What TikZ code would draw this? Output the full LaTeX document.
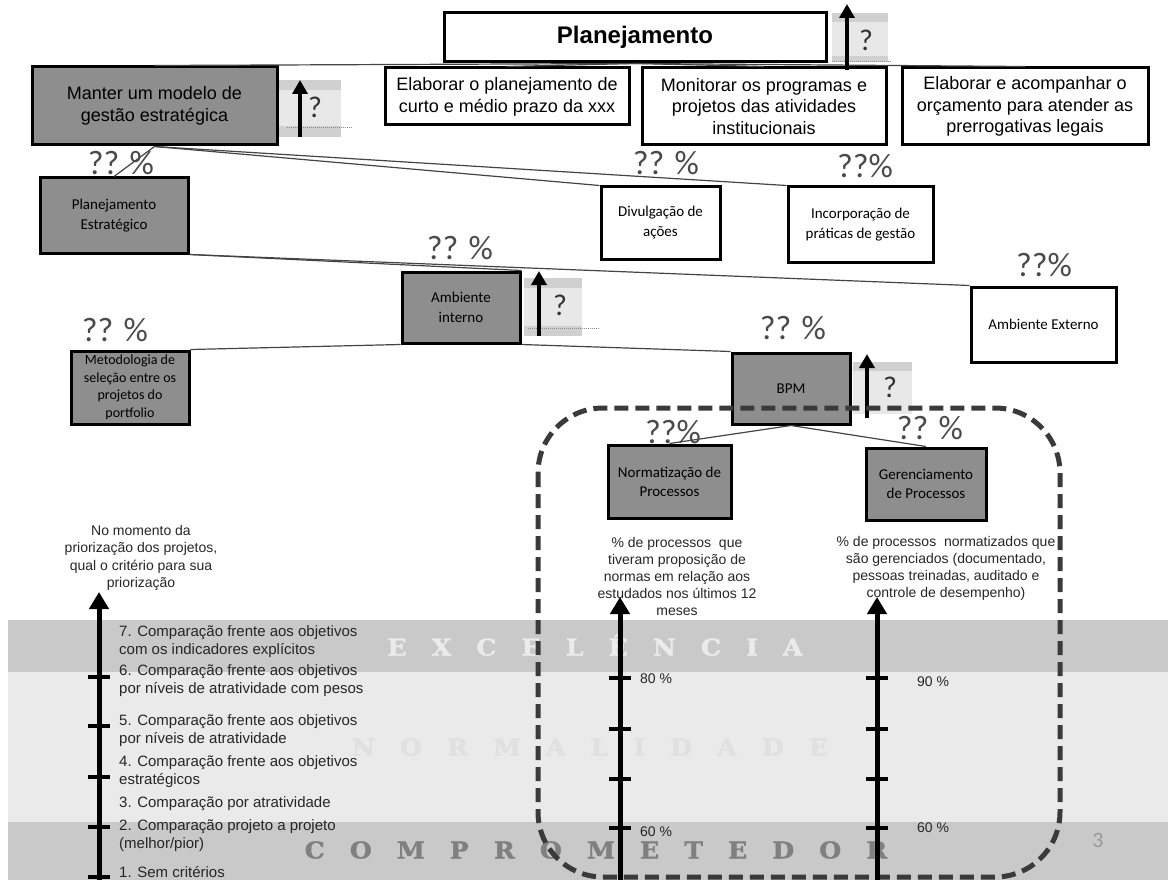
\documentclass[tikz,border=0pt]{standalone}
\usepackage{fontspec}
\setmainfont{Liberation Sans}
\newfontfamily\calib{Carlito}
\newfontfamily\bandserif[FakeBold=1.5,FakeStretch=1.1]{DejaVu Serif}
\usetikzlibrary{arrows.meta,positioning,calc}

\definecolor{boxgrey}{HTML}{8E8E8E}
\definecolor{bandmid}{HTML}{C9C9C9}
\definecolor{bandlight}{HTML}{EAEAEA}
\definecolor{pctgrey}{HTML}{4A4A4A}
\definecolor{indbg}{HTML}{E8E8E8}
\definecolor{indband}{HTML}{D0D0D0}
\definecolor{dashgrey}{HTML}{3A3A3A}
\definecolor{linkgrey}{HTML}{444444}

\newcommand{\lsp}{\hspace{25pt}}

\tikzset{
  pct/.style={font=\calib\fontsize{34}{34}\selectfont, text=pctgrey, inner sep=0pt},
  qmark/.style={font=\calib\fontsize{30}{30}\selectfont, text=black!80, inner sep=0pt},
  indbgbox/.style={fill=indbg},
  indstrip/.style={fill=indband},
  indarrow/.style={line width=4pt, -{Triangle[length=14pt,width=15pt]}},
  scalearrow/.style={line width=5pt, -{Triangle[length=17pt,width=19pt]}},
  tick/.style={line width=3.5pt},
  bandtxt/.style={font=\bandserif\bfseries\fontsize{23}{23}\selectfont, inner sep=0pt},
  listtxt/.style={font=\fontsize{15}{18}\selectfont, align=left, anchor=west, inner sep=0pt, text=black!85},
  desctxt/.style={font=\fontsize{14}{17}\selectfont, align=center, inner sep=0pt, text=black!85},
  valtxt/.style={font=\fontsize{14}{14}\selectfont, anchor=west, inner sep=0pt, text=black!85},
}

\begin{document}
\begin{tikzpicture}[x=1pt,y=-1pt]
\useasboundingbox (0,0) rectangle (1168,880);

% faixas de maturidade
\fill[bandmid] (8,620) rectangle (1168,672);
\fill[bandlight] (8,672) rectangle (1168,822);
\fill[bandmid] (8,822) rectangle (1168,880);
\node[bandtxt, text=white!92!black] (excel) at (595,645) {E\lsp X\lsp C\lsp E\lsp L\lsp Ê\lsp N\lsp C\lsp I\lsp A};
\node[bandtxt, text=black!12] (normal) at (590,747) {N\lsp O\lsp R\lsp M\lsp A\lsp L\lsp I\lsp D\lsp A\lsp D\lsp E};
\node[bandtxt, text=black!50] (compr) at (596,850) {C\lsp O\lsp M\lsp P\lsp R\lsp O\lsp M\lsp E\lsp T\lsp E\lsp D\lsp O\lsp R};
\node[font=\calib\fontsize{22}{22}\selectfont, text=black!40] (pagina) at (1098,840) {3};

% caixas brancas
\begin{scope}[every node/.style={draw,line width=3pt,fill=white,inner sep=2pt,align=center,font=\fontsize{18}{22}\selectfont}]
  \node[minimum width=382pt, minimum height=49pt, font=\fontsize{24}{28}\selectfont\bfseries] (plan) at (635,37.5) {Planejamento};
  \node[minimum width=244pt, minimum height=57pt] (elab) at (507,96.5) {Elaborar o planejamento de\\curto e médio prazo da xxx};
  \node[minimum width=244pt, minimum height=77pt, font=\fontsize{18}{21.5}\selectfont] (monit) at (764,106.5) {Monitorar os programas e\\projetos das atividades\\institucionais};
  \node[minimum width=246pt, minimum height=77pt, font=\fontsize{18}{21.5}\selectfont] (acomp) at (1025,106.5) {Elaborar e acompanhar o\\orçamento para atender as\\prerrogativas legais};
\end{scope}

\begin{scope}[every node/.style={draw,line width=3pt,fill=white,inner sep=2pt,align=center,font=\calib\fontsize{15}{20}\selectfont}]
  \node[minimum width=119pt, minimum height=72pt] (divulg) at (660.5,223) {Divulgação de\\ações};
  \node[minimum width=145pt, minimum height=75pt] (incorp) at (860.5,224.5) {Incorporação de\\práticas de gestão};
  \node[minimum width=145pt, minimum height=75pt] (ambext) at (1043.5,324.5) {Ambiente Externo};
\end{scope}

% caixas cinzas
\begin{scope}[every node/.style={draw,line width=3pt,fill=boxgrey,inner sep=1pt,align=center,font=\calib\fontsize{15}{20}\selectfont}]
  \node[minimum width=245pt, minimum height=78pt, font=\fontsize{18}{22}\selectfont] (manter) at (154.5,106) {Manter um modelo de\\gestão estratégica};
  \node[minimum width=148pt, minimum height=75pt] (pe) at (114,215.5) {Planejamento\\Estratégico};
  \node[minimum width=118pt, minimum height=71pt] (ambint) at (461,307.5) {Ambiente\\interno};
  \node[minimum width=118pt, minimum height=73pt, font=\calib\fontsize{14}{17.5}\selectfont] (metod) at (130,387.5) {Metodologia de\\seleção entre os\\projetos do\\portfolio};
  \node[minimum width=118pt, minimum height=71pt] (bpm) at (791,388.5) {BPM};
  \node[minimum width=123pt, minimum height=73pt, font=\calib\fontsize{15}{19}\selectfont] (norm) at (669.5,481.5) {Normatização de\\Processos};
  \node[minimum width=120pt, minimum height=72pt, font=\calib\fontsize{15}{19}\selectfont] (geren) at (926,484) {Gerenciamento\\de Processos};
\end{scope}

% ligacoes
\begin{scope}[every edge/.style={draw=linkgrey,line width=1.2pt}]
  \path (plan.south) edge (manter.north) edge (elab.north) edge (monit.north) edge (acomp.north);
  \path (manter.south) edge (pe.north) edge (divulg.north west) edge (incorp.north west);
  \path (pe.south east) edge (ambint.north east) edge (ambext.north west);
  \path (ambint.south west) edge (metod.north east);
  \path (ambint.south east) edge (bpm.north west);
  \path (bpm.south) edge (norm.north) edge (geren.north);
\end{scope}

% percentuais
\node[pct] (pctpe) at (121,163) {?? \%};
\node[pct] (pctdiv) at (666,163) {?? \%};
\node[pct] (pctinc) at (865,166) {??\%};
\node[pct] (pctint) at (460,248) {?? \%};
\node[pct] (pctext) at (1044,265) {??\%};
\node[pct] (pctmet) at (115,330) {?? \%};
\node[pct] (pctbpm) at (793,328) {?? \%};
\node[pct] (pctnorm) at (673,432) {??\%};
\node[pct] (pctger) at (930,428) {?? \%};

% indicadores de tendencia
\fill[indbgbox] (832,13) rectangle (888,62);
\fill[indstrip] (832,13) rectangle (888,22);
\fill[indstrip] (832,56) rectangle (888,62);
\draw[black!45, densely dotted, line width=1pt] (832,62) -- (892,62);
\coordinate (planlo) at (847,70);
\coordinate (planhi) at (847,4);
\draw[indarrow] (planlo) -- (planhi);
\node[qmark] (qplan) at (866,40) {?};

\fill[indbgbox] (279,80) rectangle (341,137);
\fill[indstrip] (279,80) rectangle (341,90);
\fill[indstrip] (279,126) rectangle (341,137);
\draw[black!45, densely dotted, line width=1pt] (287,128) -- (352,128);
\coordinate (manterlo) at (300,137);
\coordinate (manterhi) at (300,80);
\draw[indarrow] (manterlo) -- (manterhi);
\node[qmark] (qmanter) at (315,107) {?};

\fill[indbgbox] (524,278) rectangle (582,336);
\fill[indstrip] (524,278) rectangle (582,288);
\fill[indstrip] (524,326) rectangle (582,336);
\draw[black!45, densely dotted, line width=1pt] (528,328) -- (600,328);
\coordinate (intlo) at (539,336);
\coordinate (inthi) at (539,271);
\draw[indarrow] (intlo) -- (inthi);
\node[qmark] (qint) at (560,305) {?};

\fill[indbgbox] (853,362) rectangle (912,414);
\fill[indstrip] (853,362) rectangle (912,371);
\coordinate (bpmlo) at (867,418);
\coordinate (bpmhi) at (867,354);
\draw[indarrow] (bpmlo) -- (bpmhi);
\node[qmark] (qbpm) at (890,387) {?};

% regiao BPM
\draw[dashgrey, line width=5pt, dash pattern=on 14pt off 7pt, rounded corners=65pt] (538,408) rectangle (1060,877);

% escala da esquerda
\coordinate (esqbase) at (99,880);
\coordinate (esqtopo) at (99,592);
\draw[scalearrow] (esqbase) -- (esqtopo);
\foreach \y in {677,726,777,827,877}
  \draw[tick] (88,\y) -- (110,\y);
\node[desctxt, font=\fontsize{14}{17.5}\selectfont] (esqtit) at (141,558) {No momento da\\priorização dos projetos,\\qual o critério para sua\\priorização};
\node[listtxt] (n7) at (119,642) {7. Comparação frente aos objetivos\\com os indicadores explícitos};
\node[listtxt] (n6) at (119,680.5) {6. Comparação frente aos objetivos\\por níveis de atratividade com pesos};
\node[listtxt] (n5) at (119,730.5) {5. Comparação frente aos objetivos\\por níveis de atratividade};
\node[listtxt] (n4) at (119,771.5) {4. Comparação frente aos objetivos\\estratégicos};
\node[listtxt] (n3) at (119,804) {3. Comparação por atratividade};
\node[listtxt] (n2) at (119,835.5) {2. Comparação projeto a projeto\\(melhor/pior)};
\node[listtxt] (n1) at (119,872) {1. Sem critérios};

% escalas dos processos
\node[desctxt] (descnorm) at (677,576.5) {\% de processos~~que\\tiveram proposição de\\normas em relação aos\\estudados nos últimos 12\\meses};
\node[desctxt] (descger) at (946,568) {\% de processos~~normatizados que\\são gerenciados (documentado,\\pessoas treinadas, auditado e\\controle de desempenho)};
\coordinate (normbase) at (620,880);
\coordinate (normtopo) at (620,597);
\coordinate (gerbase) at (877,880);
\coordinate (gertopo) at (877,597);
\draw[scalearrow] (normbase) -- (normtopo);
\draw[scalearrow] (gerbase) -- (gertopo);
\foreach \y in {678,729,779,828} {
  \draw[tick] (609,\y) -- (631,\y);
  \draw[tick] (866,\y) -- (888,\y);
}
\node[valtxt] (v80) at (640,679) {80 \%};
\node[valtxt] (v60a) at (640,832) {60 \%};
\node[valtxt] (v90) at (917,682) {90 \%};
\node[valtxt] (v60b) at (917,828) {60 \%};
\end{tikzpicture}
\end{document}
